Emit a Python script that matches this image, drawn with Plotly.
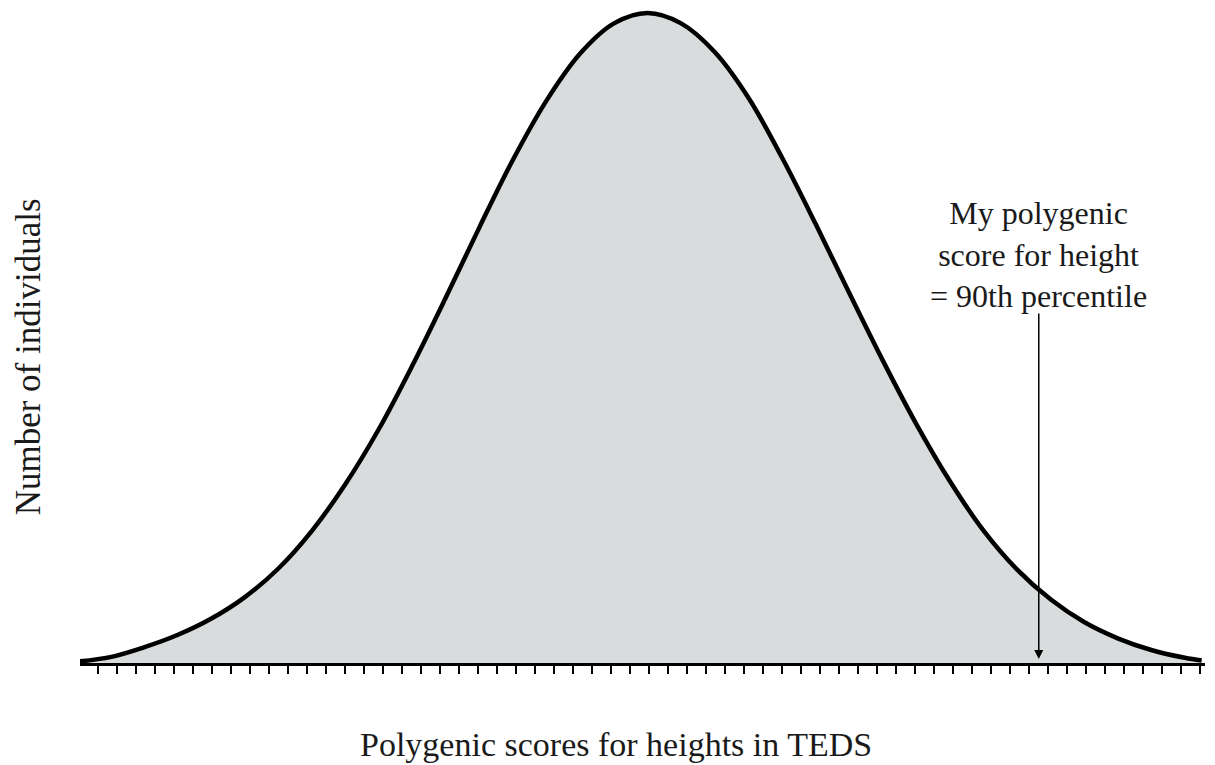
import plotly.graph_objects as go

# scores (in SD units) and relative number of individuals
score = [-3.4, -3.2, -3.0, -2.8, -2.6, -2.4, -2.2, -2.0, -1.8, -1.6,
         -1.4, -1.2, -1.0, -0.8, -0.6, -0.4, -0.2, 0.0, 0.2, 0.4,
         0.6, 0.8, 1.0, 1.2, 1.4, 1.6, 1.8, 2.0, 2.2, 2.4,
         2.6, 2.8, 3.0, 3.2, 3.3]
count = [0.2, 0.9, 2.4, 4.3, 6.8, 10.1, 14.5, 20.3, 27.5, 36.0,
         45.8, 56.3, 67.1, 77.5, 86.6, 93.8, 98.4, 100.0, 98.4, 94.0,
         87.0, 77.8, 67.6, 57.0, 46.6, 36.8, 28.0, 20.4, 14.4, 9.8,
         6.3, 3.8, 2.0, 0.8, 0.4]

my_score = 2.33
arrow_top = 54.0
note = "My polygenic<br>score for height<br>= 90th percentile"

serif = "Liberation Serif"
ink = '#1a1a1a'

fig = go.Figure()
fig.add_trace(go.Scatter(
    x=score,
    y=count,
    mode='lines',
    line=dict(color='black', width=4.5, shape='spline', smoothing=1.0),
    fill='tozeroy',
    fillcolor='#d9dcdd',
    hoverinfo='skip',
    showlegend=False
))

# arrow pointing at my score
fig.add_annotation(
    x=my_score, y=0.6, ax=my_score, ay=arrow_top,
    xref='x', yref='y', axref='x', ayref='y',
    showarrow=True, arrowhead=2, arrowsize=1.2, arrowwidth=1.5,
    arrowcolor='black', text=''
)
fig.add_annotation(
    x=my_score, y=0.623, xref='x', yref='paper',
    text=note, showarrow=False, yanchor='middle', xanchor='center',
    align='center',
    font=dict(family=serif, size=32, color=ink)
)

# axis titles
fig.add_annotation(
    x=0.476, y=-0.124, xref='paper', yref='paper',
    text='Polygenic scores for heights in TEDS', showarrow=False,
    xanchor='center', yanchor='middle',
    font=dict(family=serif, size=34, color=ink)
)
fig.add_annotation(
    x=-0.046, y=0.467, xref='paper', yref='paper',
    text='Number of individuals', showarrow=False, textangle=-90,
    xanchor='center', yanchor='middle',
    font=dict(family=serif, size=35, color=ink)
)

# page body adds an 8px offset, so the figure is sized to fit inside the window
fig.update_layout(
    width=1207,
    height=757,
    plot_bgcolor='white',
    paper_bgcolor='white',
    margin=dict(l=72, r=10, t=0, b=102),
    showlegend=False,
    xaxis=dict(
        range=[-3.38, 3.32],
        showgrid=False, zeroline=False, automargin=False,
        showline=True, linecolor='black', linewidth=2.5,
        ticks='outside', ticklen=8, tickwidth=1.5, tickcolor='black',
        tick0=-3.27, dtick=0.1131,
        showticklabels=False
    ),
    yaxis=dict(
        range=[0, 100.77],
        showgrid=False, zeroline=False, showline=False, automargin=False,
        showticklabels=False, ticks=''
    )
)

fig.write_html("out.html")
